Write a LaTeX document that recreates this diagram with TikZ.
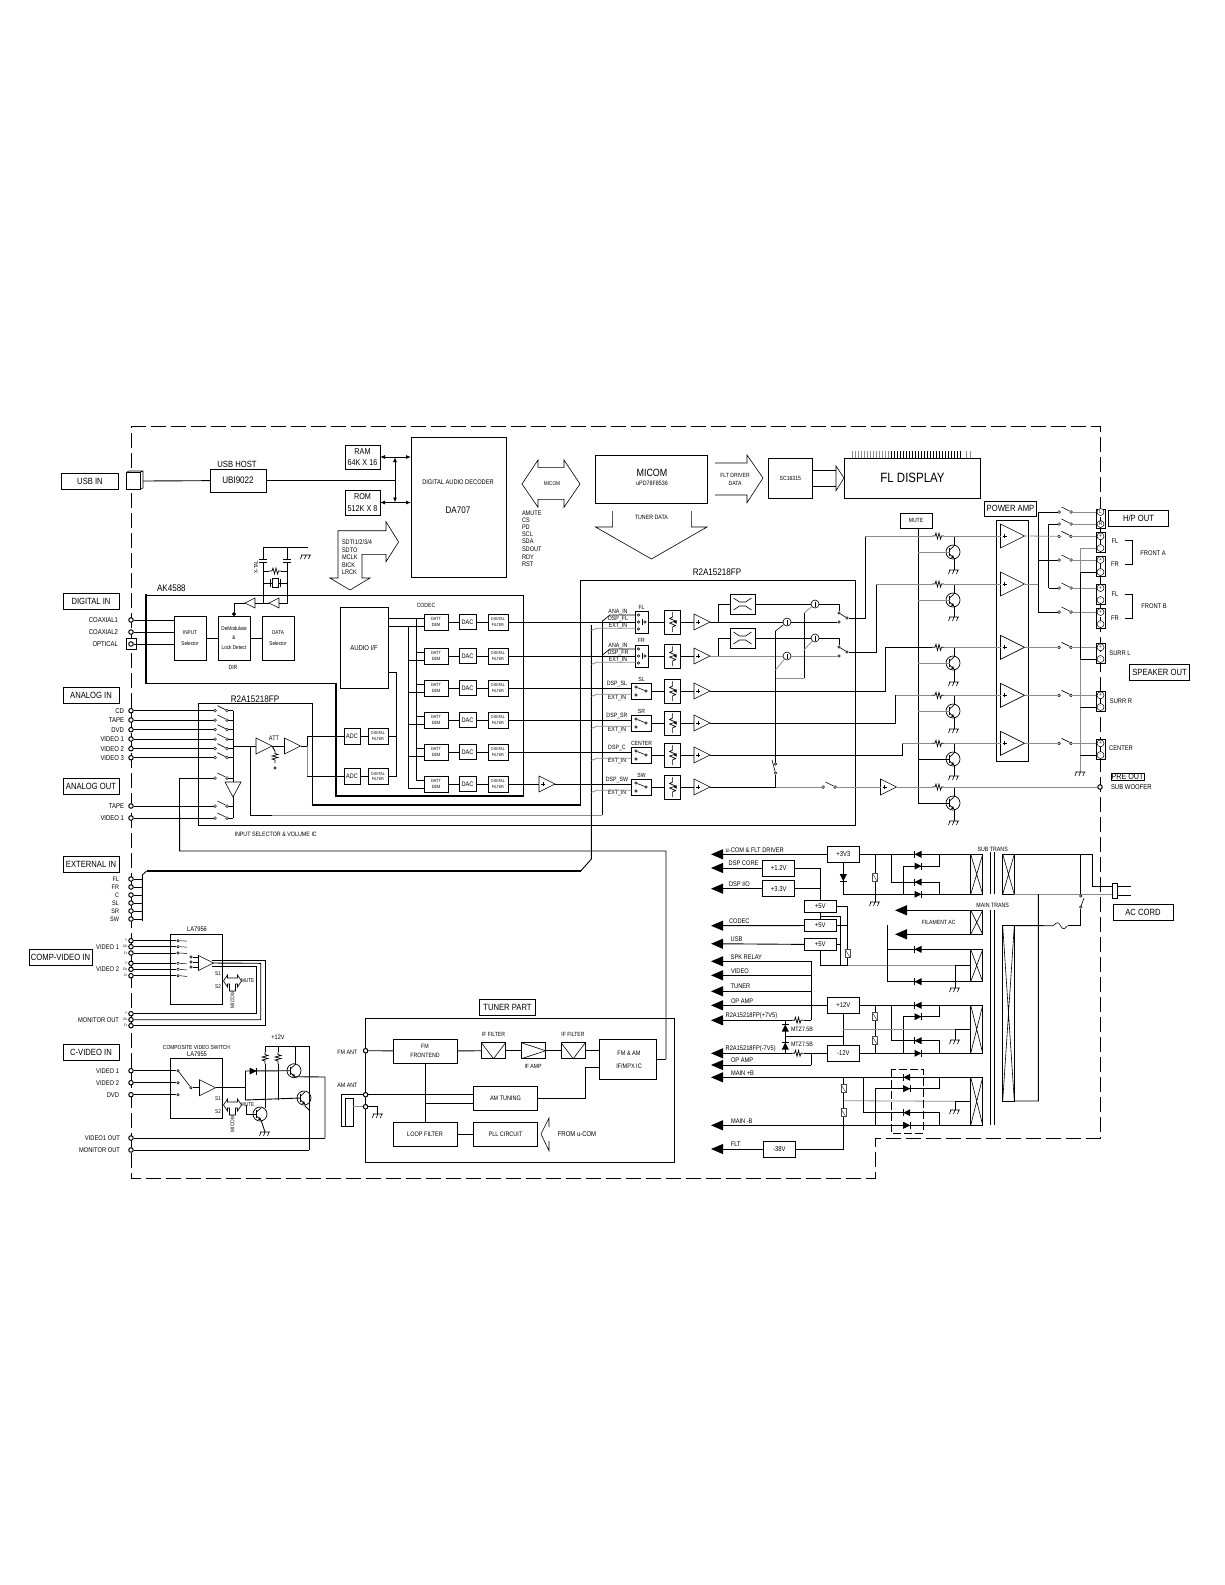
\documentclass[tikz,border=0pt]{standalone}
\usepackage{fontspec}
\setmainfont[FakeStretch=0.85]{Liberation Sans}
\usetikzlibrary{arrows.meta}

\tikzset{lab/.style={inner sep=0pt, outer sep=0pt, font=\fontsize{#1}{#1}\selectfont, align=center}}
\tikzset{blockbox/.style 2 args={rectangle, draw, inner sep=0pt, outer sep=0pt, minimum width=#1pt, minimum height=#2pt, align=center}}
\tikzset{tagbox/.style 2 args={blockbox={#1}{#2}, lab=9}}
\tikzset{termnode/.style={circle, draw, fill=white, inner sep=0pt, minimum size=4.5pt, line width=1pt}}
\tikzset{ctnode/.style={circle, draw, fill=white, inner sep=0pt, minimum size=2.6pt, line width=0.5pt}}
\tikzset{pmnode/.style={circle, draw, fill=white, inner sep=0pt, minimum size=7pt, line width=0.5pt, lab=5.5}}
\tikzset{vcanode/.style={circle, draw, fill=white, inner sep=0pt, minimum size=8pt, line width=0.6pt}}
\tikzset{xbox/.style 2 args={blockbox={#1}{#2}, path picture={\draw[line width=0.6pt] (path picture bounding box.north west) -- (path picture bounding box.south east) (path picture bounding box.north east) -- (path picture bounding box.south west);}}}
\tikzset{vbox/.style 2 args={blockbox={#1}{#2}, path picture={\draw[line width=0.6pt] (path picture bounding box.north west) -- (path picture bounding box.south) -- (path picture bounding box.north east);}}}
\tikzset{tribox/.style 2 args={blockbox={#1}{#2}, path picture={\draw[line width=0.6pt] (path picture bounding box.north west) -- (path picture bounding box.east) -- (path picture bounding box.south west);}}}
\tikzset{faint/.style={draw=black!45, line width=0.8pt}}
\tikzset{bigarr/.style={-{Triangle[length=12pt,width=10pt]}}}
\tikzset{dblarr/.style={{Latex[length=5pt,width=4pt]}-{Latex[length=5pt,width=4pt]}}}

\tikzset{pics/amp/.style={code={
	\draw[fill=white, line width=0.6pt] (-#1,-#1) -- (-#1,#1) -- (#1,0) -- cycle;
	\coordinate (-in) at (-#1,0);
	\coordinate (-out) at (#1,0);
}}}
\tikzset{pics/ampp/.style={code={
	\draw[fill=white, line width=0.6pt] (-#1,-#1) -- (-#1,#1) -- (#1,0) -- cycle;
	\draw[line width=0.6pt] (-#1+2,0) -- (-#1+6,0) (-#1+4,-2) -- (-#1+4,2);
	\coordinate (-in) at (-#1,0);
	\coordinate (-out) at (#1,0);
}}}
\tikzset{pics/gnd/.style={code={
	\draw[line width=0.6pt] (-5,0) -- (5,0) (-4,0) -- (-5.5,4) (0,0) -- (-1.5,4) (4,0) -- (2.5,4);
}}}
\tikzset{pics/resh/.style={code={
	\draw[line width=0.7pt] (-6,0) -- (-3,0) -- (-2,-3) -- (-0.5,3) -- (1,-3) -- (2.5,3) -- (3.5,0) -- (6,0);
	\coordinate (-l) at (-6,0);
	\coordinate (-r) at (6,0);
}}}
\tikzset{pics/swt/.style={code={
	\draw[line width=0.6pt] (-3.5,-5) -- (4.5,-1);
	\draw[line width=0.5pt, fill=white] (-6,0) circle (1.4) (6,0) circle (1.4);
	\coordinate (-a) at (-7,0);
	\coordinate (-b) at (7,0);
}}}
\tikzset{pics/xst/.style={code={
	\draw[line width=0.7pt] (0,0) circle (7);
	\draw[line width=0.9pt] (-3.5,-4) -- (-3.5,4);
	\draw[line width=0.7pt] (-3.5,-2) -- (1,-6) (-3.5,2) -- (1,6);
	\fill (1,6) -- (-2,5.5) -- (0,3) -- cycle;
	\coordinate (-b) at (-3.5,0);
	\coordinate (-c) at (1,-6);
	\coordinate (-e) at (1,6);
}}}
\tikzset{pics/capv/.style={code={
	\fill[white] (-4,-1.5) rectangle (4,1.5);
	\draw[line width=0.8pt] (-4,-1.5) -- (4,-1.5) (-4,1.5) -- (4,1.5);
}}}
\tikzset{pics/capn/.style={code={
	\draw[line width=0.6pt, fill=white, draw=black!70] (-2.5,-4) rectangle (2.5,4);
	\draw[line width=0.5pt, draw=black!70] (-2.5,-4) -- (2.5,4);
}}}
\tikzset{pics/dio/.style={code={
	\fill (-3.5,-3.5) -- (-3.5,3.5) -- (3.5,0) -- cycle;
	\draw[line width=0.7pt] (3.5,-3.5) -- (3.5,3.5);
}}}
\tikzset{pics/fuse/.style={code={
	\draw[line width=0.6pt] (-7,0) .. controls (-4,-4) and (-2,-4) .. (0,0) .. controls (2,4) and (4,4) .. (7,0);
	\coordinate (-l) at (-7,0);
	\coordinate (-r) at (7,0);
}}}
\tikzset{pics/hglass/.style={code={
	\draw[line width=0.6pt] (-9,-6) -- (-3,-2) -- (3,-2) -- (9,-6) (-9,6) -- (-3,2) -- (3,2) -- (9,6);
}}}
\tikzset{pics/crossarr/.style={code={
	\draw[line width=0.6pt] (-9,0) -- (-5,-6) -- (-5,-3) -- (5,-3) -- (5,-6) -- (9,0) -- (5,6) -- (5,3) -- (3,3) -- (3,10) -- (-3,10) -- (-3,3) -- (-5,3) -- (-5,6) -- cycle;
}}}
\tikzset{pics/attsym/.style={code={
	\draw[line width=0.7pt] (0,-10) -- (0,-5) -- (-3,-3.5) -- (3,-1) -- (-3,1) -- (3,3.5) -- (0,5) -- (0,10);
	\fill (1,0) -- (4,-1.8) -- (4,1.8) -- cycle;
}}}

\begin{document}
\begin{tikzpicture}[x=1pt,y=-1pt,line width=0.9pt]
	\useasboundingbox (0,0) rectangle (1225,1585);

	%outer dashed frame
	\draw[dash pattern=on 15pt off 5pt] (131,426) -- (1100,426) -- (1100,1138) -- (875,1138) -- (875,1178) -- (131,1178) -- cycle;

	%tags on the left and right
	\node[tagbox={57}{16}] (tagusb) at (90,481) {USB IN};
	\node[tagbox={56}{16}] (tagdig) at (91,601) {DIGITAL IN};
	\node[tagbox={56}{16}] (tagana) at (91,695) {ANALOG IN};
	\node[tagbox={56}{16}] (tagaout) at (91,786) {ANALOG OUT};
	\node[tagbox={56}{16}] (tagext) at (91,864) {EXTERNAL IN};
	\node[tagbox={63}{16}] (tagcomp) at (60.5,957) {COMP-VIDEO IN};
	\node[tagbox={56}{16}] (tagcv) at (91,1052) {C-VIDEO IN};
	\node[tagbox={59.5}{16}] (taghp) at (1138.5,518) {H/P OUT};
	\node[tagbox={60}{16}] (tagspk) at (1159.5,672.5) {SPEAKER OUT};
	\node[tagbox={60}{16}] (tagac) at (1143,912) {AC CORD};
	\node[tagbox={52}{15}] (tagpa) at (1010.5,508.5) {POWER AMP};
	\node[tagbox={56.5}{16}] (tagtun) at (507.5,1007) {TUNER PART};

	%usb and decoder
	\node[blockbox={14}{17}, fill=white] (usbconn) at (133,481) {};
	\draw[line width=0.6pt] (usbconn.north west) -- ++(3,-1.5) -- ++(14,0) -- ++(0,17) -- (usbconn.south east) (usbconn.north east) -- ++(3,-1.5);
	\node[blockbox={56}{23}, lab=9.5] (ubi) at (238,480.5) {UBI9022};
	\node[lab=9] (ubitxt) at (237,464) {USB HOST};
	\node[blockbox={35}{24}, lab=8.5] (ram) at (362.5,457) {RAM\\[3pt]64K X 16};
	\node[blockbox={35}{25}, lab=8.5] (rom) at (362.5,502.5) {ROM\\[3pt]512K X 8};
	\node[blockbox={95}{140}] (dec) at (458.5,507) {};
	\node[lab=6.7] (dectxt) at (458,482) {DIGITAL AUDIO DECODER};
	\node[lab=9.5] (decnum) at (458,510) {DA707};
	\coordinate (ramtap) at (395,457);
	\coordinate (romtap) at (395,502.5);
	\draw (usbconn.east) ++(3,0) -- (ubi);
	\draw (ubi) -- (ubi -| ramtap);
	\draw[dblarr] (ram.east) -- (dec.west |- ram.east);
	\draw[dblarr] (rom.east) -- (dec.west |- rom.east);
	\draw[dblarr] (ramtap) -- (romtap);

	%micom arrows
	\node[lab=5.5] (micarr) at (552,484) {MICOM};
	\draw[line width=0.6pt] (522,484) -- (538,460) -- (538,467.3) -- (564,467.3) -- (564,460) -- (580,484) -- (564,507.3) -- (564,499.3) -- (538,499.3) -- (538,507.3) -- cycle;
	\foreach \n/\tx/\y in {a/AMUTE/513,b/CS/520.7,c/PD/527.7,d/SCL/534.7,e/SDA/541.7,f/SDOUT/549.3,g/RDY/557,h/RST/564.7}{
		\node[lab=6.6, anchor=west] (amu\n) at (522,\y) {\tx};
	}
	\draw[line width=0.6pt] (338,530.7) -- (386,530.7) -- (386,521.7) -- (398.6,542) -- (386,561.7) -- (386,554.3) -- (362,554.3) -- (362,578) -- (370,578) -- (350,590) -- (330,578) -- (338,578) -- cycle;
	\foreach \n/\tx/\y in {a/SDTI1\slash2\slash3\slash4/542,b/SDTO/550,c/MCLK/557,d/BICK/565,e/LRCK/572.7}{
		\node[lab=6.6, anchor=west] (sdt\n) at (342,\y) {\tx};
	}

	\node[blockbox={111.5}{48}] (micom) at (651.3,479) {};
	\node[lab=10.5] (mictxt) at (652,473) {MICOM};
	\node[lab=6.3] (micnum) at (652,483.5) {uPD78F8536};
	\draw[line width=0.6pt] (715,463) -- (747,463) -- (747,455) -- (763,478) -- (747,502.7) -- (747,495) -- (715,495);
	\node[lab=6] (fltdrv) at (735,475) {FLT DRIVER};
	\node[lab=6] (fltdat) at (735,483) {DATA};
	\node[blockbox={43.4}{40}, lab=6] (sc) at (790.3,478) {SC16315};
	\node[blockbox={136}{40}, lab=13.5] (fldisp) at (912.5,478) {FL DISPLAY};
	\coordinate (scarra) at (836,470);
	\coordinate (scarrb) at (836,486);
	\draw (sc.east |- scarra) -- (scarra);
	\draw (sc.east |- scarrb) -- (scarrb);
	\draw[line width=0.6pt] (836,466) -- (844,478) -- (836,490.7) -- cycle;
	\foreach \x in {852,855,...,888}{
		\draw[faint] (\x,451) -- (\x,458);
	}
	\foreach \x in {891,894,...,960}{
		\draw[line width=0.7pt] (\x,451) -- (\x,458);
	}
	\foreach \x in {966,970}{
		\draw[faint] (\x,451) -- (\x,458);
	}
	\draw[line width=0.6pt] (612.6,511) -- (612.6,527) -- (595.5,527) -- (651.4,559) -- (707,527) -- (691.4,527) -- (691.4,511);
	\node[lab=6.2] (tundat) at (651.4,517.7) {TUNER DATA};

	%ak4588 outline
	\node[lab=9.5, anchor=west] (aktxt) at (157,588) {AK4588};
	\draw (146,595.3) -- (523.6,595.3) -- (523.6,796);
	\draw (146,683.3) -- (336.4,683.3);
	\draw[line width=2pt] (146,594.3) -- (146,684.3);
	\draw[line width=2pt] (523.6,796) -- (336.4,796) -- (336.4,683.3);

	%digital in
	\foreach \n/\tx/\y in {coaxa/COAXIAL1/620,coaxb/COAXIAL2/632,opt/OPTICAL/644}{
		\node[lab=7, anchor=east] (l\n) at (118,\y) {\tx};
	}
	\node[blockbox={10}{11}, fill=white] (optbox) at (131,644) {};
	\node[blockbox={32}{44}, lab=5.5] (insel) at (190,638) {INPUT\\[6pt]Selector};
	\node[blockbox={32}{44}, lab=5.5] (demod) at (234,638) {DeModulate\\[4pt]\&\\[4pt]Lock Detect};
	\node[blockbox={32}{44}, lab=5.5] (datasel) at (278,638) {DATA\\[6pt]Selector};
	\node[lab=6] (dirtxt) at (233,667) {DIR};
	\foreach \n/\y in {coaxa/620,coaxb/632,opt/644}{
		\node[termnode] (t\n) at (131,\y) {};
		\draw (t\n) -- (t\n -| insel.west);
	}
	\draw (insel) -- (demod);
	\draw (demod) -- (datasel);

	%crystal part
	\pic[rotate=180] (bufa) at (250,603) {amp=5};
	\pic[rotate=180] (bufb) at (274,603) {amp=5};
	\coordinate (xtl) at (263,547);
	\coordinate (xtr) at (287,547);
	\coordinate (xte) at (308,547);
	\coordinate (xtm) at (263,603);
	\draw (xtm) -- (xtl) -- (xte);
	\draw (bufb-in) -| (xtr);
	\draw (bufb-out) -- (bufa-in);
	\draw[-{Circle[length=4pt]}] (bufa-out) -| (demod.north);
	\pic at (263,561) {capv};
	\pic at (287,561) {capv};
	\pic (xres) at (275,571) {resh};
	\draw (xres-l) -- (xres-l -| xtl);
	\draw (xres-r) -- (xres-r -| xtr);
	\node[blockbox={6}{9}, fill=white, line width=0.7pt] (xtal) at (275,583) {};
	\draw (xtal) -- (xtal -| xtl);
	\draw (xtal) -- (xtal -| xtr);
	\draw[line width=0.7pt] (270,579) -- (270,587) (280,579) -- (280,587);
	\pic at (306,555) {gnd};
	\node[lab=5.5, rotate=90] (xtaltxt) at (256,567) {X-TAL};

	%codec
	\node[lab=6] (codectxt) at (426,605) {CODEC};
	\node[blockbox={48}{81}, lab=7] (audif) at (364,647.5) {AUDIO I/F};
	\coordinate (busa) at (416,618);
	\coordinate (busb) at (408,626);
	\coordinate (busaend) at (416,780);
	\coordinate (busbend) at (408,788);
	\draw (busa) -- (busaend);
	\draw (busb) -- (busbend);
	\draw (audif.east |- busa) -- (busa);
	\draw (audif.east |- busb) -- (busb);
	\foreach \n/\y in {fl/622,fr/656,sl/688,sr/720,c/752,sw/784}{
		\node[blockbox={24}{16}, lab=4.5] (datt\n) at (436,\y) {DATT\\[1.5pt]DEM};
		\node[blockbox={17}{15}, lab=6.5] (dac\n) at (467.5,\y) {DAC};
		\node[blockbox={20}{16}, lab=4.2] (dfil\n) at (498,\y) {DIGITAL\\[1.5pt]FILTER};
		\draw (datt\n) -- (dac\n);
		\draw (dac\n) -- (dfil\n);
		\draw (datt\n.west |- 0,\y-4) -- (416,\y-4);
		\draw (datt\n.west |- 0,\y+4) -- (408,\y+4);
	}
	\node[blockbox={16}{16}, lab=6.5] (adca) at (352,736) {ADC};
	\node[blockbox={16}{16}, lab=6.5] (adcb) at (352,776.5) {ADC};
	\node[blockbox={20}{16}, lab=4.2] (adfa) at (378,736) {DIGITAL\\[1.5pt]FILTER};
	\node[blockbox={20}{16}, lab=4.2] (adfb) at (378,776.5) {DIGITAL\\[1.5pt]FILTER};
	\draw (adca) -- (adfa);
	\draw (adcb) -- (adfb);
	\coordinate (aifend) at (396,776.5);
	\draw (audif.east |- 0,672) -- (396,672) -- (aifend) -- (adfb);
	\draw (adfa) -- (adfa -| aifend);

	%r2a15218fp outline
	\node[lab=9.5] (r2atxta) at (255,699) {R2A15218FP};
	\node[lab=9.5] (r2atxtb) at (717,572) {R2A15218FP};
	\draw (312.5,805) -- (312.5,703) -- (198,703) -- (198,825) -- (855.5,825) -- (855.5,580) -- (580,580) -- (580,805);
	\draw[line width=2pt] (311.5,805) -- (580.9,805);
	\node[lab=6.3] (seltxt) at (275.7,834) {INPUT SELECTOR \& VOLUME IC};

	%analog in
	\coordinate (selbus) at (233,710.7);
	\coordinate (selbusend) at (233,818);
	\draw (selbus) -- (selbusend);
	\foreach \n/\tx/\y in {cd/CD/710.7,tape/TAPE/720,dvd/DVD/729.7,vida/VIDEO 1/739,vidb/VIDEO 2/748.7,vidc/VIDEO 3/757.7,otape/TAPE/806,ovid/VIDEO 1/818}{
		\node[termnode] (t\n) at (131,\y) {};
		\node[lab=7, anchor=east] (l\n) at (124,\y) {\tx};
		\pic (s\n) at (221,\y) {swt};
		\draw (t\n) -- (s\n-a);
		\draw (s\n-b) -- (s\n-b -| selbus);
	}
	\pic (srec) at (221,778) {swt};
	\coordinate (recturn) at (179.5,778);
	\draw (recturn) -- (srec-a);
	\draw (srec-b) -- (233,778);
	\draw[fill=white, line width=0.6pt] (225,782) -- (241,782) -- (233,797) -- cycle;
	\pic (attin) at (264,746) {amp=8};
	\pic (attout) at (292.5,746) {amp=8};
	\node[lab=6.5] (atttxt) at (274,738) {ATT};
	\coordinate (selout) at (233,746);
	\coordinate (recbus) at (250.7,746);
	\draw (selout) -- (attin-in);
	\draw (attin-out) -- (attout-in);
	\pic[rotate=90] (attres) at (275,757) {resh};
	\draw (attin-out) -- (attres-r);
	\node[ctnode] (attgnd) at (275,768) {};
	\coordinate (attjoin) at (307,746);
	\draw (attout-out) -- (attjoin);
	\draw (attjoin) |- (adca);
	\draw[faint] (attjoin) -- (attjoin |- adcb);
	\draw (attjoin |- adcb) -- (adcb);
	\coordinate (recend) at (602.4,815);
	\coordinate (recgrey) at (272,815);
	\draw (recbus) |- (recgrey);
	\draw[faint] (recgrey) -- (recend);
	\draw (recend) -- (602.4,621);

	%external in
	\foreach \n/\tx/\y in {fl/FL/879,fr/FR/887,c/C/895,sl/SL/903,sr/SR/911,sw/SW/919}{
		\node[termnode] (te\n) at (131,\y) {};
		\node[lab=6.5, anchor=east] (le\n) at (119,\y) {\tx};
		\draw (te\n) -- (142.3,\y);
	}
	\draw (142.3,921) -- (142.3,875) -- (146.6,871);
	\draw[line width=2pt] (146.6,871) -- (580.7,871);
	\draw (580.7,871) -- (591.4,859) -- (591.4,625);
	\draw (recturn) -- (179.6,851) -- (666,851) -- (666,1059);

	%right block inputs
	\foreach \n/\yrow/\yb/\xb/\wb/\hb/\yt/\swn in {
		fl/622/622/642/13/22/607/FL,
		fr/656/656/642/13/22/640.7/FR,
		sl/688/691/641.4/20/16/679/SL,
		sr/720/723/641.4/20/16/711/SR,
		c/752/755/641.4/20/16/743/CENTER,
		sw/784/787/641.4/20/16/775/SW}{
		\node[blockbox={\wb}{\hb}] (sw\n) at (\xb,\yb) {};
		\node[blockbox={16}{24}] (at\n) at (672.6,\yb) {};
		\pic at (672.6,\yb) {attsym};
		\pic (am\n) at (702,\yb) {ampp=8};
		\node[lab=6] (swt\n) at (641.5,\yt) {\swn};
		\draw (dfil\n) -- (dfil\n -| sw\n.west);
		\draw (sw\n.east |- at\n.west) -- (at\n.west);
		\draw (at\n.east) -- (am\n-in);
	}
	%text at the selector boxes
	\foreach \n/\tx/\x/\y in {ana/ANA\_IN/618/612,dfl/DSP\_FL/618/619,ext/EXT\_IN/618/625.7,anb/ANA\_IN/618/646,dfr/DSP\_FR/618/653,exr/EXT\_IN/618/660,dsl/DSP\_SL/617/684,exs/EXT\_IN/617/697.7,dsr/DSP\_SR/617/716,ext2/EXT\_IN/617/729.7,dc/DSP\_C/617/748,exc/EXT\_IN/617/761,dsw/DSP\_SW/617/780,exw/EXT\_IN/617/793}{
		\node[lab=6.2] (sel\n) at (\x,\y) {\tx};
	}
	\foreach \y/\xe in {628.3/635.5,662.3/635.5,694.3/631.4,726.3/631.4,758.3/631.4,790.3/631.4}{
		\draw[faint] (591.4,\y+2) -- (597,\y) -- (\xe,\y);
	}
	\draw[line width=0.7pt] (602.4,621) -- (610,615) -- (635.5,615);
	\draw[line width=0.7pt] (602.4,655) -- (610,649) -- (635.5,649);
	\foreach \n/\y in {fl/622,fr/656}{
		\node[ctnode] (cta\n) at (638.5,\y-7) {};
		\node[ctnode] (ctb\n) at (638.5,\y) {};
		\node[ctnode] (ctc\n) at (638.5,\y+7) {};
		\node[ctnode] (ctd\n) at (645,\y) {};
		\draw[line width=0.6pt] (642,\y-3) -- (642,\y+3);
	}
	\foreach \n/\y in {sl/691,sr/723,c/755,sw/787}{
		\node[ctnode] (cta\n) at (636,\y-4) {};
		\node[ctnode] (ctb\n) at (636,\y+4) {};
		\node[ctnode] (ctd\n) at (646,\y) {};
		\draw[line width=0.6pt] (cta\n) -- (ctd\n);
	}

	%fl and fr paths
	\node[blockbox={25}{20}] (xfl) at (742.5,604) {};
	\node[blockbox={25}{20}] (xfr) at (742.5,638) {};
	\pic at (742.5,604) {hglass};
	\pic at (742.5,638) {hglass};
	\node[vcanode] (vca) at (815,604) {\rule{0.6pt}{5pt}};
	\node[vcanode] (vcb) at (787,622) {\rule{0.6pt}{5pt}};
	\node[vcanode] (vcc) at (815,638) {\rule{0.6pt}{5pt}};
	\node[vcanode] (vcd) at (787,656) {\rule{0.6pt}{5pt}};
	\node[ctnode] (cfa) at (839,613) {};
	\node[ctnode] (cfb) at (839,622) {};
	\node[ctnode] (cfc) at (847,618) {};
	\node[ctnode] (cra) at (839,647) {};
	\node[ctnode] (crb) at (839,656) {};
	\node[ctnode] (crc) at (847,652) {};
	\coordinate (jfl) at (718.4,622);
	\coordinate (jfr) at (718.4,656);
	\draw (amfl-out) -- (vcb);
	\draw (vcb) -- (cfb);
	\draw (jfl) |- (xfl);
	\draw (xfl) -- (vca);
	\draw (vca) -| (cfa);
	\draw[line width=0.6pt] (cfa) -- (cfc);
	\draw[faint] (amfr-out) -- (vcd);
	\draw[faint] (vcd) -- (crb);
	\draw (jfr) |- (xfr);
	\draw (xfr) -- (vcc);
	\draw (vcc) -| (cra);
	\draw[line width=0.6pt] (cra) -- (crc);

	%control lines
	\coordinate (cta) at (775.5,631);
	\coordinate (ctb) at (775.5,678);
	\coordinate (ctc) at (775.5,764);
	\coordinate (ctd) at (804,678);
	\draw (cta) -- (ctc);
	\draw[line width=0.6pt] (cta) -- (vcb);
	\draw[faint] (775.5,670) -- (vcd);
	\draw[faint] (ctb) -- (ctd);
	\draw[line width=0.7pt] (ctd) -- (804,613);
	\draw[faint] (804,613) -- (vca);
	\draw[faint] (804,650) -- (vcc);
	\node[ctnode] (cwa) at (775.5,764) {};
	\node[ctnode] (cwb) at (775.5,773) {};
	\draw[line width=0.6pt] (cwb) -- (772,760);
	\coordinate (jsw) at (775.5,787);
	\draw (amsw-out) -- (jsw) -- (cwb);

	%mute and power amp
	\node[blockbox={32}{15}, lab=6] (mute) at (916,520.5) {MUTE};
	\node[blockbox={32.6}{240.6}] (pabox) at (1012.3,641) {};
	\coordinate (mtop) at (918,528);
	\coordinate (mbot) at (918,803);
	\draw (mtop) -- (mbot);
	\foreach \n/\y/\yq/\yg in {fl/536/552/570,fr/584/600/617,sl/647.3/663/682,sr/695.3/711/729,c/743.3/759/776,sub/787/803/821}{
		\pic (r\n) at (938,\y) {resh};
		\pic (q\n) at (953,\yq) {xst};
		\pic at (954,\yg) {gnd};
		\draw[line width=0.7pt] (r\n-r) -| (q\n-c);
		\draw[line width=0.7pt] (q\n-e) -- (954,\yg);
		\draw[faint] (q\n-b) -- (mbot |- q\n-b);
	}
	\foreach \n/\y in {fl/536,fr/584,sl/647.3,sr/695.3,c/743.3}{
		\pic (pa\n) at (1012.5,\y) {ampp=12};
		\draw[faint] (r\n-r) -- (pa\n-in);
	}
	\draw (qsub-b) -- (mbot);
	\draw (qc-b) -- (mbot |- qc-b);

	\coordinate (tofl) at (865.3,536);
	\coordinate (tofr) at (876,584);
	\coordinate (tosl) at (885,647.3);
	\coordinate (tosr) at (895.5,695.3);
	\coordinate (toc) at (902.4,743.3);
	\draw (cfc) -| (tofl);
	\draw[faint] (tofl) -- (rfl-l);
	\draw (crc) -| (tofr);
	\draw[faint] (tofr) -- (rfr-l);
	\draw (amsl-out) -| (tosl);
	\draw (tosl) -- (rsl-l);
	\draw (amsr-out) -| (tosr);
	\draw[faint] (tosr) -- (rsr-l);
	\draw (amc-out) -| (toc);
	\draw[faint] (toc) -- (rc-l);

	%sub woofer path
	\pic (swsub) at (829,787) {swt};
	\pic (ampsub) at (888.5,787) {ampp=8};
	\node[termnode] (tsub) at (1100,787) {};
	\draw[faint] (jsw) -- (swsub-a);
	\draw[faint] (swsub-b) -- (ampsub-in);
	\draw[faint] (ampsub-out) -- (rsub-l);
	\draw[faint] (rsub-r) -- (tsub);
	\node[lab=8.5, anchor=west, draw, inner sep=0.5pt] (preout) at (1111,777) {PRE OUT};
	\node[lab=7, anchor=west] (subtxt) at (1111,787) {SUB WOOFER};

	%dsp sw output
	\pic (amdsp) at (547,784) {ampp=8};
	\draw (dfilsw) -- (amdsp-in);
	\draw (amdsp-out) -- (swsw.west |- amdsp-out);

	%speaker terminals
	\foreach \n/\yc/\yp/\ym/\lp/\lm/\hb in {hp/518.5/512/524/L/R/19,fa/542/536.3/548/+/-/20,fb/566/560/572/+/-/20,fc/594/588/600/+/-/20,fd/618.3/612/624/+/-/20,sl/653/647.3/659/+/-/20,sr/701/695.3/707/+/-/20,c/749/743.3/755/+/-/20}{
		\node[blockbox={9}{\hb}, line width=0.6pt] (tb\n) at (1100.5,\yc) {};
		\node[pmnode] (tp\n) at (1100.5,\yp) {\lp};
		\node[pmnode] (tm\n) at (1100.5,\ym) {\lm};
	}
	\foreach \n/\y/\tbn in {hl/512/hp,hr/524/hp,a/536.3/fa,b/560/fb,c/588/fc,d/612/fd,e/647.3/sl,f/695.3/sr,g/743.3/c}{
		\pic (so\n) at (1065,\y) {swt};
		\draw[faint] (so\n-b) -- (so\n-b -| tb\tbn.west);
	}
	\coordinate (obat) at (1038.4,512);
	\coordinate (obab) at (1038.4,612);
	\coordinate (obbt) at (1048.6,524);
	\coordinate (obbb) at (1048.6,588);
	\draw (obat) -- (obab);
	\draw (obbt) -- (obbb);
	\draw (obat) -- (sohl-a);
	\draw (obbt) -- (sohr-a);
	\draw (obbb) -- (soc-a);
	\draw (obab) -- (sod-a);
	\draw (1038.4,560) -- (sob-a);
	\draw[faint] (pafl-out) -- (soa-a);
	\draw[faint] (pafr-out) -- (pafr-out -| obat);
	\draw[faint] (pasl-out) -- (soe-a);
	\draw[faint] (pasr-out) -- (sof-a);
	\draw[faint] (pac-out) -- (sog-a);
	\coordinate (negt) at (1080.4,572);
	\coordinate (negb) at (1080.4,772);
	\draw[faint] (1080.4,548) -- (negb);
	\draw[faint] (1080.4,548) -- (tbfa.west |- tmfa);
	\draw (negt) -- (1080.4,659);
	\draw (negt) -- (tbfb.west |- negt);
	\draw (1080.4,659) -- (tbsl.west |- tmsl);
	\draw (1080.4,707) -- (tbsr.west |- tmsr);
	\draw (1080.4,755) -- (tbc.west |- tmc);
	\pic at (1080.4,772) {gnd};
	\foreach \n/\tx/\x/\y in {fa/FL/1115/540.7,fb/FR/1115/564,fc/FL/1115/594,fd/FR/1115/618,sa/SURR L/1120/652.7,sb/SURR R/1121/700.7,sc/CENTER/1121/747.7}{
		\node[lab=6.8] (sp\n) at (\x,\y) {\tx};
	}
	\node[lab=6.8] (fronta) at (1153,552.7) {FRONT A};
	\node[lab=6.8] (frontb) at (1154,606) {FRONT B};
	\draw[line width=0.7pt] (1124.5,540.7) -- (1132.6,540.7) -- (1132.6,564) -- (1124.5,564);
	\draw[line width=0.7pt] (1124.5,594) -- (1132.6,594) -- (1132.6,618) -- (1124.5,618);

	%composite video
	\node[lab=6.8, anchor=east] (lva) at (119,947) {VIDEO 1};
	\node[lab=6.8, anchor=east] (lvb) at (119,969.3) {VIDEO 2};
	\node[lab=6.8, anchor=east] (lmon) at (119,1019.7) {MONITOR OUT};
	\node[lab=6.8] (latxt) at (197,929) {LA7956};
	\draw (222.5,1004) -- (170.5,1004) -- (170.5,934) -- (222.5,934) -- (222.5,1004);
	\foreach \n/\tx/\y in {a/Y/940.7,b/Cb/946.7,c/Cr/953,d/Y/963.3,e/Cb/969.3,f/Cr/975.7}{
		\node[termnode] (tc\n) at (131,\y) {};
		\node[lab=3.5, anchor=east] (ltc\n) at (127,\y) {\tx};
		\node[ctnode] (ccn\n) at (178,\y) {};
		\draw (tc\n) -- (ccn\n);
		\draw[line width=0.5pt] (ccn\n) ++(2,0) -- ++(7,\y/100-9);
	}
	\foreach \n/\tx/\y in {a/Y/1013.7,b/Cb/1019.7,c/Cr/1025.7}{
		\node[termnode] (tmon\n) at (131,\y) {};
		\node[lab=3.5, anchor=east] (ltmon\n) at (127,\y) {\tx};
	}
	\pic (cvamp) at (206,963) {amp=7.5};
	\foreach \n/\y in {a/957,b/962,c/967}{
		\node[ctnode] (cvc\n) at (191,\y) {};
		\draw[line width=0.6pt] (cvc\n) -- (cvc\n -| cvamp-in);
	}
	\coordinate (cvoa) at (212,960.7);
	\coordinate (cvob) at (212,963);
	\coordinate (cvoc) at (212,966);
	\coordinate (cvxa) at (265,960.7);
	\coordinate (cvxb) at (260.7,963.3);
	\coordinate (cvxc) at (256.8,966);
	\draw (cvoa) -- (cvxa) |- (tmonc);
	\draw (cvob) -- (cvxb) |- (tmonb);
	\draw (cvoc) -- (cvxc) |- (tmona);
	\node[lab=5.5] (sta) at (218,973.7) {S1};
	\node[lab=5.5] (stb) at (218,986.7) {S2};
	\pic at (232.5,981) {crossarr};
	\node[lab=5.5, anchor=west] (mta) at (241,980.7) {MUTE};
	\node[lab=5.5, rotate=90] (mca) at (232.5,1000) {MICOM};

	%c video
	\node[lab=5.8] (cvtxt) at (196.5,1047) {COMPOSITE VIDEO SWITCH};
	\node[lab=6.8] (cvnum) at (197,1054) {LA7955};
	\draw (222.5,1118) -- (170.5,1118) -- (170.5,1058) -- (222.5,1058) -- (222.5,1118);
	\foreach \n/\tx/\y in {a/VIDEO 1/1070.7,b/VIDEO 2/1082.7,c/DVD/1094.7}{
		\node[termnode] (tv\n) at (131,\y) {};
		\node[lab=6.8, anchor=east] (ltv\n) at (119,\y) {\tx};
		\node[ctnode] (cvs\n) at (178,\y) {};
		\draw (tv\n) -- (cvs\n);
	}
	\node[ctnode] (cvcom) at (191,1087.7) {};
	\draw[line width=0.6pt] (cvsa) -- (cvcom);
	\pic (cwamp) at (207.5,1087.7) {amp=8};
	\draw[line width=0.6pt] (cvcom) -- (cwamp-in);
	\coordinate (cwj) at (245,1087.7);
	\coordinate (cwjt) at (245,1071);
	\coordinate (cwjb) at (245,1100);
	\draw (cwamp-out) -- (cwj);
	\draw (cwjt) -- (cwjb);
	\pic (cqa) at (294,1070.7) {xst};
	\pic (cqb) at (304,1098) {xst};
	\pic (cqc) at (260,1114) {xst};
	\pic[rotate=90] (crs) at (265,1058) {resh};
	\pic[rotate=90] (crt) at (278,1058) {resh};
	\pic at (253,1071) {dio};
	\coordinate (rla) at (265,1046);
	\coordinate (rlb) at (309,1046);
	\node[lab=6.5] (vtw) at (278,1037) {+12V};
	\draw (rla) -- (rlb);
	\draw (rla) -- (crs-r);
	\draw (278,1046) -- (crt-r);
	\draw (crs-l) -- (265,1108);
	\draw (crt-l) -- (278,1100);
	\draw (cwjt) -- (cqa-b);
	\draw (cwjb) -- (cqb-b);
	\draw (cqa-c) -- (295,1046);
	\draw (rlb) -- (309,1150);
	\draw (cqb-e) -- (305,1106) -- (309,1110);
	\coordinate (emit) at (325,1077);
	\draw (cqa-e) -- (emit) -- (325,1138);
	\node[termnode] (tvo) at (131,1138) {};
	\node[termnode] (tmo) at (131,1150) {};
	\node[lab=6.8, anchor=east] (ltvo) at (120,1138) {VIDEO1 OUT};
	\node[lab=6.8, anchor=east] (ltmo) at (120,1150) {MONITOR OUT};
	\draw (tvo) -- (325,1138);
	\draw (tmo) -- (309,1150);
	\draw (cqc-e) -- (265,1132);
	\pic at (265,1132) {gnd};
	\draw (246,1105) |- (cqc-b);
	\node[lab=5.5] (stc) at (218,1098.7) {S1};
	\node[lab=5.5] (std) at (218,1111.7) {S2};
	\pic at (232.5,1105) {crossarr};
	\node[lab=5.5, anchor=west] (mtb) at (241,1105) {MUTE};
	\node[lab=5.5, rotate=90] (mcb) at (232.5,1124) {MICOM};

	%tuner part
	\draw (365.6,1018.7) rectangle (674,1162.3);
	\node[lab=6.3] (fmant) at (347.4,1052.7) {FM ANT};
	\node[lab=6.3] (amant) at (347.4,1085) {AM ANT};
	\node[termnode] (tfm) at (365.6,1050.7) {};
	\node[termnode] (tam) at (365.6,1094.7) {};
	\node[termnode] (tamg) at (365.6,1106.7) {};
	\node[blockbox={64}{24}, lab=6.2] (front) at (425,1051) {FM\\[3pt]FRONTEND};
	\node[vbox={24.3}{16}] (ifa) at (493.5,1050.7) {};
	\node[tribox={24.3}{16}] (ifb) at (533.5,1050.7) {};
	\node[vbox={24.3}{16}] (ifc) at (573.2,1050.7) {};
	\node[blockbox={57.6}{40}] (ifmpx) at (627.8,1059) {};
	\node[lab=6.5] (ifmpxa) at (629,1053.7) {FM \& AM};
	\node[lab=6.5] (ifmpxb) at (629,1065.7) {IF/MPX IC};
	\node[lab=6] (ifat) at (493.5,1034.7) {IF FILTER};
	\node[lab=6] (ifct) at (573,1034.7) {IF FILTER};
	\node[lab=6] (ifbt) at (533,1066.7) {IF AMP};
	\node[blockbox={64}{23.6}, lab=6.5] (amtun) at (505.5,1098.5) {AM TUNING};
	\node[blockbox={64}{24}, lab=6.5] (loopf) at (425,1134.3) {LOOP FILTER};
	\node[blockbox={64}{24}, lab=6.5] (pll) at (505.5,1134.3) {PLL CIRCUIT};
	\node[lab=7] (fromu) at (577,1134) {FROM u-COM};
	\draw[line width=0.6pt] (549,1127) -- (549,1118) -- (541,1134) -- (549,1150.7) -- (549,1141);
	\draw (tfm) -- (front);
	\draw (front) -- (ifa);
	\draw (ifa) -- (ifb);
	\draw (ifb) -- (ifc);
	\draw (ifc) -- (ifc -| ifmpx.west);
	\draw (front) -- (loopf);
	\draw (loopf) -- (pll);
	\draw (tam) -- (tam -| amtun.west);
	\draw (425,1103.3) -- (473.5,1103.3);
	\coordinate (amout) at (585,1098.5);
	\draw (amtun) -- (amout) |- (599,1067.3);
	\draw (tam) -- (341.8,1094.7) -- (341.8,1126.7) -- (345,1126.7);
	\node[blockbox={8}{28.7}, line width=0.7pt] (loopant) at (349,1112.3) {};
	\draw[faint] (tamg) -- (tamg -| loopant.east);
	\draw (tamg) -- (377.8,1106.7) -- (377.8,1114);
	\pic at (377.8,1114) {gnd};
	\draw (ifmpx.east |- 0,1059) -- (666,1059);

	%power supply outputs
	\node[blockbox={32}{16}, lab=7] (p33v) at (843.3,854.3) {+3V3};
	\node[blockbox={32}{16}, lab=7] (p12) at (778.7,868) {+1.2V};
	\node[blockbox={32}{16}, lab=7] (p33) at (778.7,888.7) {+3.3V};
	\node[blockbox={32}{11.6}, lab=7] (p5a) at (820.3,906.5) {+5V};
	\node[blockbox={32}{12.4}, lab=7] (p5b) at (820.3,925.5) {+5V};
	\node[blockbox={32}{12.4}, lab=7] (p5c) at (820.3,944.5) {+5V};
	\node[blockbox={32}{16}, lab=7] (p12v) at (843.3,1005.3) {+12V};
	\node[blockbox={32}{16}, lab=7] (n12v) at (843.3,1053.3) {-12V};
	\node[blockbox={32}{16}, lab=7] (n38v) at (779.3,1149) {-38V};
	\foreach \n/\tx/\x/\y in {a/u-COM \& FLT DRIVER/725.7/854.3,b/DSP CORE/728.7/868,c/DSP I\slash O/729/888.7,d/CODEC/729/925.7,e/USB/730.7/943.7,f/SPK RELAY/730.7/961.3,g/VIDEO/731/975.3,h/TUNER/730.7/991.3,i/OP AMP/731/1005.3,j/R2A15218FP(+7V5)/725.7/1020.3,k/R2A15218FP(-7V5)/725.7/1053.3,l/OP AMP/731/1065,m/MAIN +B/731/1077.3,n/MAIN -B/731/1125.3,o/FLT/731/1149}{
		\coordinate (tip\n) at (711,\y);
		\node[lab=6.7, anchor=west] (out\n) at (\x,\y-4.6) {\tx};
	}
	\coordinate (railt) at (811.3,961.3);
	\coordinate (railb) at (811.3,1020.3);
	\draw (railt) -- (railb);
	\draw[bigarr] (p33v) -- (tipa);
	\draw[bigarr] (p12) -- (tipb);
	\draw[bigarr] (p33) -- (tipc);
	\draw[bigarr] (p5b) -- (tipd);
	\draw[bigarr] (p5c) -- (tipe);
	\draw[bigarr] (railt) -- (tipf);
	\draw[bigarr] (811.3,975.3) -- (tipg);
	\draw[bigarr] (811.3,991.3) -- (tiph);
	\draw[bigarr] (p12v) -- (tipi);
	\pic (resp) at (797.5,1020.3) {resh};
	\pic (resn) at (797.5,1053.3) {resh};
	\draw[bigarr] (resp-l) -- (tipj);
	\draw (railb) -- (resp-r);
	\draw[bigarr] (resn-l) -- (tipk);
	\draw (n12v) -- (resn-r);
	\draw (811.3,1053.3) -- (811.3,1065);
	\draw[bigarr] (811.3,1065) -- (tipl);
	\draw (785.3,1020.3) -- (785.3,1053.3);
	\pic[rotate=90] at (785.3,1028) {dio};
	\pic[rotate=90] at (785.3,1046) {dio};
	\draw (785.3,1036.7) -- (843.3,1036.7);
	\node[lab=6.3] (mtza) at (802,1029) {MTZ7.5B};
	\node[lab=6.3] (mtzb) at (802,1044.3) {MTZ7.5B};
	\draw (p12v) -- (n12v);

	%+5v feeds
	\draw (p12) -| (p5a);
	\draw (p33) -- (p33 -| p5a);
	\draw (p5a) -- (p5b);
	\coordinate (feedc) at (840.3,916);
	\coordinate (feedd) at (847.7,906.5);
	\coordinate (gtap) at (955,965.5);
	\draw (p5a.south |- feedc) -- (feedc) -- (840.3,965.5);
	\draw (p5c.east) -- (p5c.east -| feedc);
	\draw (p5a) -- (feedd) -- (847.7,965.5);
	\draw (p5b.east) -- (p5b.east -| feedd);
	\draw (p5c) -- (820.3,965.5) -- (847.7,965.5);
	\draw[faint] (847.7,965.5) -- (gtap);
	\pic at (847.3,953) {capn};

	%transformers
	\node[xbox={12}{40}] (xsub) at (976.7,874.3) {};
	\node[xbox={12}{24}] (xfil) at (976.7,922.3) {};
	\node[xbox={12}{32.4}] (xaux) at (976.7,965.5) {};
	\node[xbox={12}{48}] (x12) at (976.7,1029.3) {};
	\node[xbox={12}{48}] (xmain) at (976.7,1101.3) {};
	\node[xbox={11.6}{40}] (xpsub) at (1008.5,874.3) {};
	\node[xbox={11.6}{175.3}] (xpmain) at (1008.5,1013.3) {};
	\draw (990.7,852) -- (990.7,894) (994,852) -- (994,894);
	\draw (990.7,910) -- (990.7,1125) (994,910) -- (994,1125);
	\node[lab=6.2] (subtr) at (992.7,849) {SUB TRANS};
	\node[lab=6.2] (maintr) at (992.7,905.7) {MAIN TRANS};
	\node[lab=6] (filtxt) at (938.7,922.3) {FILAMENT AC};
	\coordinate (fila) at (895,910.3);
	\coordinate (filb) at (895,934.3);
	\draw[bigarr] (xfil.north west) -- (fila);
	\draw[bigarr] (xfil.south west) -- (filb);

	%bridge rectifiers
	\draw (p33v) -- (xsub.north west);
	\draw (p33v.south) -- (843.3,894.3) -- (xsub.south west);
	\draw (p12v) -- (x12.north west);
	\draw (n12v) -- (x12.south west);
	\foreach \a/\b/\c/\d in {854.3/866/882/894.3,1005.3/1016.7/1040.7/1053.3}{
		\draw (891.3,\a) -- (891.3,\c) -- (939.3,\c) -- (939.3,\d);
		\draw (903.3,\d) -- (903.3,\b) -- (939.3,\b) -- (939.3,\a);
		\pic[rotate=180] at (918,\a) {dio};
		\pic at (918,\b) {dio};
		\pic[rotate=180] at (918,\c) {dio};
		\pic at (918,\d) {dio};
	}
	\pic[rotate=-90] at (843.3,877.7) {dio};
	\draw (875,854.3) -- (875,902);
	\pic at (875,877.7) {capn};
	\pic at (875,902) {gnd};
	\draw (875,1005.3) -- (875,1053.3);
	\pic at (875,1016.7) {capn};
	\pic at (875,1040.7) {capn};

	%aux winding
	\draw (887,925) -- (887,981.7);
	\draw (887,949.3) -- (xaux.north west);
	\draw (887,981.7) -- (xaux.south west);
	\pic[rotate=180] at (918,949.3) {dio};
	\pic[rotate=180] at (918,981.7) {dio};
	\draw (xaux) -- (gtap) -- (955,988);
	\pic at (955,988) {gnd};

	%center taps
	\coordinate (gtb) at (955,1029.3);
	\coordinate (gtc) at (955,1101.3);
	\draw (x12) -- (gtb) -- (955,1040);
	\pic at (955,1040) {gnd};
	\draw[faint] (843.3,1029.3) -- (gtb);
	\draw (xmain) -- (gtc) -- (955,1110);
	\pic at (955,1110) {gnd};
	\draw[faint] (843.3,1100.7) -- (gtc);

	%main b rectifier
	\draw[bigarr] (xmain.north west) -- (tipm);
	\draw[bigarr] (xmain.south west) -- (tipn);
	\draw (863,1077.3) -- (863,1112.7) -- (939.3,1112.7) -- (939.3,1125.3);
	\draw (875,1125.3) -- (875,1088.7) -- (939.3,1088.7) -- (939.3,1077.3);
	\draw[dash pattern=on 8pt off 3pt] (891.3,1069.3) rectangle (923.3,1133.3);
	\pic[rotate=180] at (906.7,1077.3) {dio};
	\pic at (906.7,1088.7) {dio};
	\pic[rotate=180] at (906.7,1112.7) {dio};
	\pic at (906.7,1125.3) {dio};
	\draw[bigarr] (n38v) -- (tipo);
	\draw (n38v) -| (843.3,1077.3);
	\pic at (843.3,1088.3) {capn};
	\pic at (843.3,1112.7) {capn};

	%mains side
	\node[blockbox={5}{15}] (plug) at (1114.5,890.5) {};
	\draw (plug.east |- 0,886) -- (1131,886) (plug.east |- 0,895.7) -- (1131,895.7);
	\draw (xpsub.north east) -- (1092.3,854.3) -- (1092.3,886.7) -- (plug.west |- 0,886.7);
	\draw[faint] (xpsub.south east) -- (plug.west |- 0,894.3);
	\draw (1038.3,894.3) -- (1038.3,1101) -- (xpmain.south east);
	\node[ctnode] (acsa) at (1080.7,896) {};
	\node[ctnode] (acsb) at (1080.7,907) {};
	\draw (1080.7,854.3) -- (acsa);
	\draw[line width=0.6pt] (acsb) -- (1084,898);
	\pic (acf) at (1060.5,925.7) {fuse};
	\draw (acsb) |- (acf-r);
	\draw (acf-l) -- (xpmain.north east);
\end{tikzpicture}
\end{document}
